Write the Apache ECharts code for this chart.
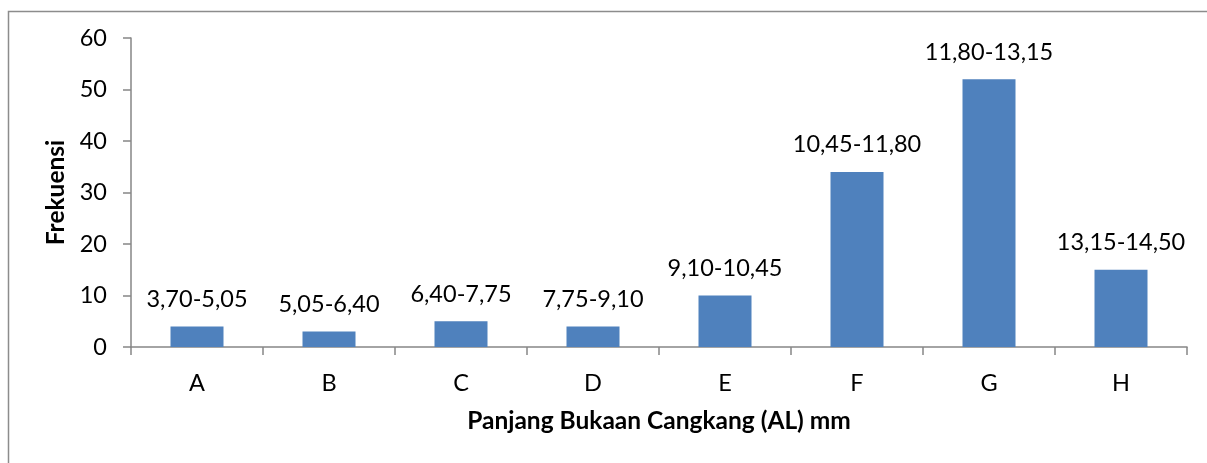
<!DOCTYPE html>
<html>
<head>
<meta charset="utf-8">
<title>Frekuensi Panjang Bukaan Cangkang</title>
<script src="https://cdn.jsdelivr.net/npm/echarts@6/dist/echarts.min.js"></script>
<style>
  html, body { margin: 0; padding: 0; background: #fff; }
  #main { width: 1207px; height: 463px; }
</style>
</head>
<body>
<div id="main"></div>
<script>
const categories = ['A', 'B', 'C', 'D', 'E', 'F', 'G', 'H'];
const classRanges = ['3,70-5,05', '5,05-6,40', '6,40-7,75', '7,75-9,10',
  '9,10-10,45', '10,45-11,80', '11,80-13,15', '13,15-14,50'];
const frekuensi = [4, 3, 5, 4, 10, 34, 52, 15];

const FONT = 'Lato';
const axisColor = '#868686';

const chart = echarts.init(document.getElementById('main'));

chart.setOption({
  animation: false,
  backgroundColor: '#fff',
  textStyle: { fontFamily: FONT },
  graphic: [{
    type: 'rect',
    left: 6,
    top: 9,
    shape: { width: 1400, height: 700 },
    style: { fill: 'none', stroke: '#8c8c8c', lineWidth: 1.5 },
    silent: true,
  }],
  grid: {
    left: 131,
    right: 20,
    top: 38,
    bottom: 116,
  },
  xAxis: {
    type: 'category',
    data: categories,
    name: 'Panjang Bukaan Cangkang (AL) mm',
    nameLocation: 'middle',
    nameGap: 62,
    nameTextStyle: { fontFamily: FONT, fontWeight: 'bold', fontSize: 24.5, color: '#000' },
    axisLine: { lineStyle: { color: axisColor, width: 1.5 } },
    axisTick: { show: true, length: 8, lineStyle: { color: axisColor, width: 1.5 } },
    axisLabel: { margin: 24, fontFamily: FONT, fontSize: 23.5, color: '#000' },
    splitLine: { show: false },
  },
  yAxis: {
    type: 'value',
    min: 0,
    max: 60,
    interval: 10,
    name: 'Frekuensi',
    nameLocation: 'middle',
    nameGap: 61,
    nameRotate: 90,
    nameTextStyle: { fontFamily: FONT, fontWeight: 'bold', fontSize: 24.5, color: '#000' },
    axisLine: { show: true, lineStyle: { color: axisColor, width: 1.5 } },
    axisTick: { show: true, length: 8, lineStyle: { color: axisColor, width: 1.5 } },
    axisLabel: { margin: 24, fontFamily: FONT, fontSize: 23.5, color: '#000' },
    splitLine: { show: false },
  },
  series: [{
    type: 'bar',
    data: frekuensi,
    barWidth: 53,
    itemStyle: { color: '#4F81BD' },
    label: {
      show: true,
      position: 'top',
      distance: 15,
      fontFamily: FONT,
      fontSize: 23.5,
      color: '#000',
      formatter: (p) => classRanges[p.dataIndex],
    },
  }],
});
</script>
</body>
</html>
